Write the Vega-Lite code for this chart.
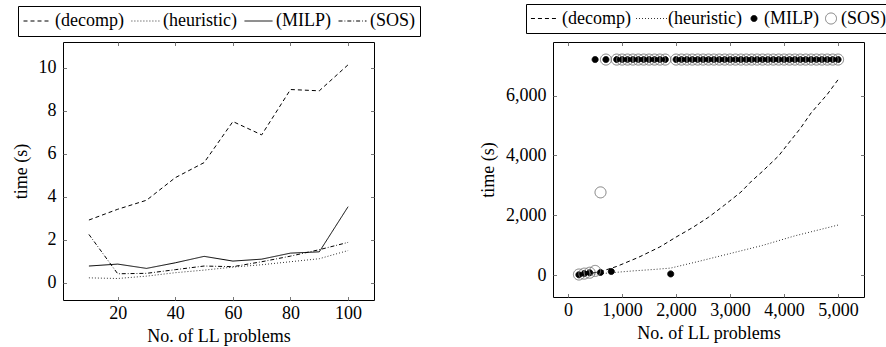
{
  "$schema": "https://vega.github.io/schema/vega-lite/v6.json",
  "background": "white",
  "padding": {"left": 11, "top": 3, "right": 0, "bottom": 0},
  "autosize": {"type": "pad"},
  "spacing": 58,
  "bounds": "full",
  "resolve": {
    "scale": {"strokeDash": "independent", "shape": "independent", "fill": "independent", "stroke": "independent", "size": "independent"},
    "legend": {"strokeDash": "independent", "shape": "independent", "fill": "independent", "stroke": "independent", "size": "independent"}
  },
  "config": {
    "font": "Liberation Serif",
    "view": {"stroke": "#000", "strokeWidth": 1},
    "axis": {
      "labelFont": "Liberation Serif", "labelFontSize": 18, "labelColor": "#000",
      "titleFont": "Liberation Serif", "titleFontSize": 18, "titleFontWeight": "normal", "titleColor": "#000",
      "domain": false, "ticks": false, "tickSize": 0, "grid": true, "gridColor": "#777", "gridWidth": 1
    },
    "axisX": {"labelPadding": 4, "titlePadding": 5, "labelAngle": 0},
    "axisY": {"labelPadding": 7, "titlePadding": 8},
    "legend": {
      "orient": "none", "direction": "horizontal",
      "labelFont": "Liberation Serif", "labelFontSize": 18, "labelColor": "#000",
      "strokeColor": "#000", "fillColor": "#fff", "padding": 4,
      "columnPadding": 6, "labelOffset": 3, "clipHeight": 22, "symbolStrokeWidth": 1
    }
  },
  "datasets": {
    "left": [
      {"s": "(decomp)", "x": 10, "t": 2.92}, {"s": "(decomp)", "x": 20, "t": 3.42}, {"s": "(decomp)", "x": 30, "t": 3.84},
      {"s": "(decomp)", "x": 40, "t": 4.89}, {"s": "(decomp)", "x": 50, "t": 5.59}, {"s": "(decomp)", "x": 60, "t": 7.5},
      {"s": "(decomp)", "x": 70, "t": 6.88}, {"s": "(decomp)", "x": 80, "t": 8.99}, {"s": "(decomp)", "x": 90, "t": 8.93},
      {"s": "(decomp)", "x": 100, "t": 10.14},
      {"s": "(heuristic)", "x": 10, "t": 0.23}, {"s": "(heuristic)", "x": 20, "t": 0.2}, {"s": "(heuristic)", "x": 30, "t": 0.31},
      {"s": "(heuristic)", "x": 40, "t": 0.47}, {"s": "(heuristic)", "x": 50, "t": 0.59}, {"s": "(heuristic)", "x": 60, "t": 0.73},
      {"s": "(heuristic)", "x": 70, "t": 0.84}, {"s": "(heuristic)", "x": 80, "t": 0.98}, {"s": "(heuristic)", "x": 90, "t": 1.12},
      {"s": "(heuristic)", "x": 100, "t": 1.5},
      {"s": "(MILP)", "x": 10, "t": 0.78}, {"s": "(MILP)", "x": 20, "t": 0.87}, {"s": "(MILP)", "x": 30, "t": 0.67},
      {"s": "(MILP)", "x": 40, "t": 0.93}, {"s": "(MILP)", "x": 50, "t": 1.23}, {"s": "(MILP)", "x": 60, "t": 1.01},
      {"s": "(MILP)", "x": 70, "t": 1.1}, {"s": "(MILP)", "x": 80, "t": 1.38}, {"s": "(MILP)", "x": 90, "t": 1.44},
      {"s": "(MILP)", "x": 100, "t": 3.54},
      {"s": "(SOS)", "x": 10, "t": 2.25}, {"s": "(SOS)", "x": 20, "t": 0.42}, {"s": "(SOS)", "x": 30, "t": 0.44},
      {"s": "(SOS)", "x": 40, "t": 0.61}, {"s": "(SOS)", "x": 50, "t": 0.78}, {"s": "(SOS)", "x": 60, "t": 0.75},
      {"s": "(SOS)", "x": 70, "t": 0.98}, {"s": "(SOS)", "x": 80, "t": 1.24}, {"s": "(SOS)", "x": 90, "t": 1.54},
      {"s": "(SOS)", "x": 100, "t": 1.88}
    ],
    "rlines": [
      {"s": "(decomp)", "x": 200, "t": 20}, {"s": "(decomp)", "x": 400, "t": 60}, {"s": "(decomp)", "x": 600, "t": 130},
      {"s": "(decomp)", "x": 800, "t": 240}, {"s": "(decomp)", "x": 900, "t": 300}, {"s": "(decomp)", "x": 1300, "t": 600},
      {"s": "(decomp)", "x": 1700, "t": 950}, {"s": "(decomp)", "x": 2000, "t": 1280}, {"s": "(decomp)", "x": 2300, "t": 1590},
      {"s": "(decomp)", "x": 2600, "t": 1940}, {"s": "(decomp)", "x": 2900, "t": 2350}, {"s": "(decomp)", "x": 3200, "t": 2780},
      {"s": "(decomp)", "x": 3400, "t": 3150}, {"s": "(decomp)", "x": 3600, "t": 3470}, {"s": "(decomp)", "x": 3900, "t": 3990},
      {"s": "(decomp)", "x": 4100, "t": 4450}, {"s": "(decomp)", "x": 4300, "t": 4900}, {"s": "(decomp)", "x": 4500, "t": 5420},
      {"s": "(decomp)", "x": 4800, "t": 6040}, {"s": "(decomp)", "x": 5000, "t": 6530},
      {"s": "(heuristic)", "x": 200, "t": 10}, {"s": "(heuristic)", "x": 400, "t": 30}, {"s": "(heuristic)", "x": 600, "t": 55},
      {"s": "(heuristic)", "x": 800, "t": 90}, {"s": "(heuristic)", "x": 1200, "t": 150}, {"s": "(heuristic)", "x": 1600, "t": 200},
      {"s": "(heuristic)", "x": 1900, "t": 245}, {"s": "(heuristic)", "x": 2400, "t": 460}, {"s": "(heuristic)", "x": 3000, "t": 730},
      {"s": "(heuristic)", "x": 3600, "t": 1000}, {"s": "(heuristic)", "x": 4200, "t": 1320}, {"s": "(heuristic)", "x": 4600, "t": 1500},
      {"s": "(heuristic)", "x": 5000, "t": 1680}
    ],
    "rpoints": [
      {"s": "(MILP)", "x": 200, "t": 20}, {"s": "(MILP)", "x": 300, "t": 60}, {"s": "(MILP)", "x": 400, "t": 90},
      {"s": "(MILP)", "x": 500, "t": 7200}, {"s": "(MILP)", "x": 600, "t": 100}, {"s": "(MILP)", "x": 700, "t": 7200},
      {"s": "(MILP)", "x": 800, "t": 130},
      {"s": "(MILP)", "x": 900, "t": 7200}, {"s": "(MILP)", "x": 1000, "t": 7200}, {"s": "(MILP)", "x": 1100, "t": 7200},
      {"s": "(MILP)", "x": 1200, "t": 7200}, {"s": "(MILP)", "x": 1300, "t": 7200}, {"s": "(MILP)", "x": 1400, "t": 7200},
      {"s": "(MILP)", "x": 1500, "t": 7200}, {"s": "(MILP)", "x": 1600, "t": 7200}, {"s": "(MILP)", "x": 1700, "t": 7200},
      {"s": "(MILP)", "x": 1800, "t": 7200}, {"s": "(MILP)", "x": 1900, "t": 50},
      {"s": "(MILP)", "x": 2000, "t": 7200}, {"s": "(MILP)", "x": 2100, "t": 7200}, {"s": "(MILP)", "x": 2200, "t": 7200},
      {"s": "(MILP)", "x": 2300, "t": 7200}, {"s": "(MILP)", "x": 2400, "t": 7200}, {"s": "(MILP)", "x": 2500, "t": 7200},
      {"s": "(MILP)", "x": 2600, "t": 7200}, {"s": "(MILP)", "x": 2700, "t": 7200}, {"s": "(MILP)", "x": 2800, "t": 7200},
      {"s": "(MILP)", "x": 2900, "t": 7200}, {"s": "(MILP)", "x": 3000, "t": 7200}, {"s": "(MILP)", "x": 3100, "t": 7200},
      {"s": "(MILP)", "x": 3200, "t": 7200}, {"s": "(MILP)", "x": 3300, "t": 7200}, {"s": "(MILP)", "x": 3400, "t": 7200},
      {"s": "(MILP)", "x": 3500, "t": 7200}, {"s": "(MILP)", "x": 3600, "t": 7200}, {"s": "(MILP)", "x": 3700, "t": 7200},
      {"s": "(MILP)", "x": 3800, "t": 7200}, {"s": "(MILP)", "x": 3900, "t": 7200}, {"s": "(MILP)", "x": 4000, "t": 7200},
      {"s": "(MILP)", "x": 4100, "t": 7200}, {"s": "(MILP)", "x": 4200, "t": 7200}, {"s": "(MILP)", "x": 4300, "t": 7200},
      {"s": "(MILP)", "x": 4400, "t": 7200}, {"s": "(MILP)", "x": 4500, "t": 7200}, {"s": "(MILP)", "x": 4600, "t": 7200},
      {"s": "(MILP)", "x": 4700, "t": 7200}, {"s": "(MILP)", "x": 4800, "t": 7200}, {"s": "(MILP)", "x": 4900, "t": 7200},
      {"s": "(MILP)", "x": 5000, "t": 7200},
      {"s": "(SOS)", "x": 200, "t": 30}, {"s": "(SOS)", "x": 300, "t": 60}, {"s": "(SOS)", "x": 400, "t": 90},
      {"s": "(SOS)", "x": 500, "t": 150}, {"s": "(SOS)", "x": 600, "t": 2770}, {"s": "(SOS)", "x": 700, "t": 7200},
      {"s": "(SOS)", "x": 900, "t": 7200}, {"s": "(SOS)", "x": 1000, "t": 7200}, {"s": "(SOS)", "x": 1100, "t": 7200},
      {"s": "(SOS)", "x": 1200, "t": 7200}, {"s": "(SOS)", "x": 1300, "t": 7200}, {"s": "(SOS)", "x": 1400, "t": 7200},
      {"s": "(SOS)", "x": 1500, "t": 7200}, {"s": "(SOS)", "x": 1600, "t": 7200}, {"s": "(SOS)", "x": 1700, "t": 7200},
      {"s": "(SOS)", "x": 1800, "t": 7200},
      {"s": "(SOS)", "x": 2000, "t": 7200}, {"s": "(SOS)", "x": 2100, "t": 7200}, {"s": "(SOS)", "x": 2200, "t": 7200},
      {"s": "(SOS)", "x": 2300, "t": 7200}, {"s": "(SOS)", "x": 2400, "t": 7200}, {"s": "(SOS)", "x": 2500, "t": 7200},
      {"s": "(SOS)", "x": 2600, "t": 7200}, {"s": "(SOS)", "x": 2700, "t": 7200}, {"s": "(SOS)", "x": 2800, "t": 7200},
      {"s": "(SOS)", "x": 2900, "t": 7200}, {"s": "(SOS)", "x": 3000, "t": 7200}, {"s": "(SOS)", "x": 3100, "t": 7200},
      {"s": "(SOS)", "x": 3200, "t": 7200}, {"s": "(SOS)", "x": 3300, "t": 7200}, {"s": "(SOS)", "x": 3400, "t": 7200},
      {"s": "(SOS)", "x": 3500, "t": 7200}, {"s": "(SOS)", "x": 3600, "t": 7200}, {"s": "(SOS)", "x": 3700, "t": 7200},
      {"s": "(SOS)", "x": 3800, "t": 7200}, {"s": "(SOS)", "x": 3900, "t": 7200}, {"s": "(SOS)", "x": 4000, "t": 7200},
      {"s": "(SOS)", "x": 4100, "t": 7200}, {"s": "(SOS)", "x": 4200, "t": 7200}, {"s": "(SOS)", "x": 4300, "t": 7200},
      {"s": "(SOS)", "x": 4400, "t": 7200}, {"s": "(SOS)", "x": 4500, "t": 7200}, {"s": "(SOS)", "x": 4600, "t": 7200},
      {"s": "(SOS)", "x": 4700, "t": 7200}, {"s": "(SOS)", "x": 4800, "t": 7200}, {"s": "(SOS)", "x": 4900, "t": 7200},
      {"s": "(SOS)", "x": 5000, "t": 7200}
    ]
  },
  "hconcat": [
    {
      "width": 311,
      "height": 258,
      "data": {"name": "left"},
      "mark": {"type": "line", "color": "#000", "strokeWidth": 1},
      "encoding": {
        "x": {"field": "x", "type": "quantitative", "title": "No. of LL problems",
              "scale": {"domain": [1, 109], "nice": false, "zero": false},
              "axis": {"values": [20, 40, 60, 80, 100], "format": "d", "gridDash": [3.5, 251, 3.5, 1000]}},
        "y": {"field": "t", "type": "quantitative", "title": "time (s)",
              "scale": {"domain": [-0.8, 11.2], "nice": false, "zero": false},
              "axis": {"values": [0, 2, 4, 6, 8, 10], "format": "d", "gridDash": [3.5, 304, 3.5, 1000]}},
        "strokeDash": {"field": "s", "type": "nominal",
              "scale": {"domain": ["(decomp)", "(heuristic)", "(MILP)", "(SOS)"],
                        "range": [[4, 3], [0.8, 2.2], [1, 0], [4, 2, 0.8, 2]]},
              "legend": {"title": null, "legendX": -45, "legendY": -36,
                         "symbolType": "M-0.93,0H1", "symbolSize": 841,
                         "symbolStrokeColor": "#000", "symbolStrokeWidth": 1}}
      }
    },
    {
      "width": 311,
      "height": 255,
      "layer": [
        {
          "data": {"name": "rlines"},
          "transform": [{"filter": "datum.s === '(decomp)'"}],
          "mark": {"type": "line", "color": "#000", "strokeWidth": 1, "strokeDash": [4, 3]},
          "encoding": {
            "x": {"field": "x", "type": "quantitative", "title": "No. of LL problems",
                  "scale": {"domain": [-280, 5480], "nice": false, "zero": false},
                  "axis": {"values": [0, 1000, 2000, 3000, 4000, 5000], "format": ",d", "gridDash": [3.5, 248, 3.5, 1000]}},
            "y": {"field": "t", "type": "quantitative", "title": "time (s)",
                  "scale": {"domain": [-720, 7786], "nice": false, "zero": false},
                  "axis": {"values": [0, 2000, 4000, 6000], "format": ",d", "gridDash": [3.5, 304, 3.5, 1000]}}
          }
        },
        {
          "data": {"name": "rlines"},
          "transform": [{"filter": "datum.s === '(heuristic)'"}],
          "mark": {"type": "line", "color": "#000", "strokeWidth": 1, "strokeDash": [0.8, 2.2]},
          "encoding": {
            "x": {"field": "x", "type": "quantitative"},
            "y": {"field": "t", "type": "quantitative"}
          }
        },
        {
          "data": {"name": "rpoints"},
          "mark": {"type": "point", "opacity": 1, "strokeWidth": 1},
          "encoding": {
            "x": {"field": "x", "type": "quantitative"},
            "y": {"field": "t", "type": "quantitative"},
            "shape": {"field": "s", "type": "nominal",
                  "scale": {"domain": ["(decomp)", "(heuristic)", "(MILP)", "(SOS)"],
                            "range": ["M-0.97,0H0.7", "M-0.906,0H1.03", "circle", "circle"]},
                  "legend": {"title": null, "legendX": -27, "legendY": -38, "labelOffset": 1, "columnPadding": 3, "clipHeight": 21}},
            "fill": {"field": "s", "type": "nominal",
                  "scale": {"domain": ["(decomp)", "(heuristic)", "(MILP)", "(SOS)"],
                            "range": ["transparent", "transparent", "#000", "transparent"]},
                  "legend": {"title": null, "legendX": -27, "legendY": -38, "labelOffset": 1, "columnPadding": 3, "clipHeight": 21}},
            "stroke": {"field": "s", "type": "nominal",
                  "scale": {"domain": ["(decomp)", "(heuristic)", "(MILP)", "(SOS)"],
                            "range": ["#000", "#000", "#000", "#777"]},
                  "legend": {"title": null, "legendX": -27, "legendY": -38, "labelOffset": 1, "columnPadding": 3, "clipHeight": 21}},
            "size": {"field": "s", "type": "nominal",
                  "scale": {"type": "ordinal", "domain": ["(decomp)", "(heuristic)", "(MILP)", "(SOS)"],
                            "range": [900, 1024, 36, 121]},
                  "legend": {"title": null, "legendX": -27, "legendY": -38, "labelOffset": 1, "columnPadding": 3, "clipHeight": 21}},
            "strokeDash": {"field": "s", "type": "nominal",
                  "scale": {"domain": ["(decomp)", "(heuristic)", "(MILP)", "(SOS)"],
                            "range": [[4, 3], [0.8, 2.2], [1, 0], [1, 0]]},
                  "legend": {"title": null, "legendX": -27, "legendY": -38, "labelOffset": 1, "columnPadding": 3, "clipHeight": 21}}
          }
        }
      ]
    }
  ]
}
